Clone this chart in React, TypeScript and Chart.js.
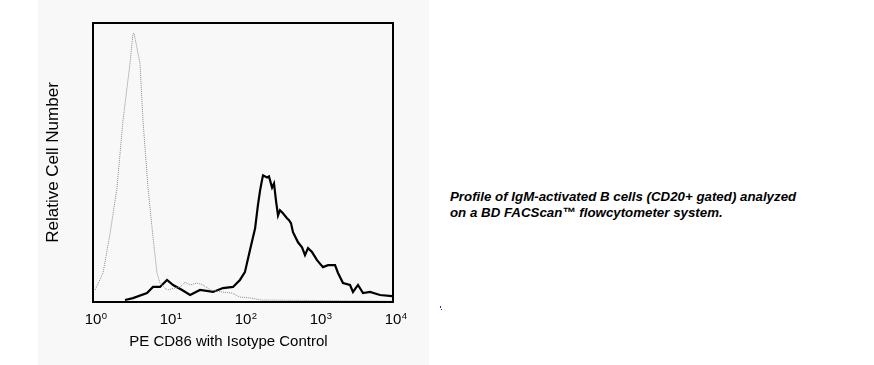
import React, { useEffect, useRef } from "react";
import { Chart, registerables } from "chart.js";

Chart.register(...registerables);

// Fluorescence intensity (PE) and relative cell counts
const isotypeX = [1.06, 1.12, 1.36, 1.69, 2.09, 2.51, 3.11, 3.41, 3.52, 4.24, 4.64, 5.41, 6.31, 7.13, 7.82, 9.7, 14.5, 16.9, 19.7, 24.5, 29.3, 37, 52, 72, 90, 128, 175, 10000];
const isotypeY = [4.3, 5.5, 10.4, 24.6, 41, 65, 85.4, 96, 96.4, 85.4, 65, 41, 23.2, 10.4, 6.8, 4.3, 5.4, 7.1, 6.1, 6.8, 6.1, 4.3, 3.6, 3.2, 1.8, 1.4, 0.7, 0.3];

const cd86X = [2.67, 3.41, 5.25, 6.31, 7.82, 9.7, 11.7, 15.4, 19.7, 26.7, 39.8, 54, 73.6, 91, 106, 124, 145, 158, 169, 179, 185, 209, 222, 244, 259, 275, 293, 311, 341, 386, 411, 437, 464, 541, 612, 671, 736, 832, 970, 1166, 1360, 1687, 1848, 2154, 2672, 2929, 3415, 3981, 4936, 6710, 9700];
const cd86Y = [0.7, 1.4, 3.2, 5.4, 5.4, 7.9, 6.1, 4.3, 2.5, 4.3, 3.6, 5, 5.4, 7.9, 10.7, 18.6, 26.4, 34.6, 40, 43.6, 45.4, 44.6, 45, 41, 42.5, 36.4, 31, 32.9, 31.8, 30, 29.3, 28.2, 25, 21.4, 19.6, 16.8, 19.3, 17.9, 15, 12.5, 13.2, 13.2, 10.4, 6.8, 6.1, 3.6, 6.1, 3.2, 3.6, 2.5, 2.1];

const tickValues = [1, 10, 100, 1000, 10000];
const tickBase = "10";
const tickExponents = ["0", "1", "2", "3", "4"];

const xTitle = "PE CD86 with Isotype Control";
const yTitle = "Relative Cell Number";
const captionLines = [
  "Profile of IgM-activated B cells (CD20+ gated) analyzed",
  "on a BD FACScan\u2122 flowcytometer system.",
];

const FONT = "Arial, 'Liberation Sans', sans-serif";

const boxPlugin = {
  id: "boxFrame",
  afterDatasetsDraw(chart: any) {
    const { ctx, chartArea } = chart;
    ctx.save();
    ctx.strokeStyle = "#000";
    ctx.lineWidth = 2;
    ctx.strokeRect(chartArea.left, chartArea.top, chartArea.right - chartArea.left, chartArea.bottom - chartArea.top);
    ctx.restore();
  },
};

// Draws the power-of-ten exponents next to the "10" tick labels of the x axis
const exponentPlugin = {
  id: "tickExponents",
  afterDraw(chart: any) {
    const { ctx } = chart;
    const scale = chart.scales.x;
    ctx.save();
    ctx.font = `15px ${FONT}`;
    const w = ctx.measureText(tickBase).width;
    ctx.font = `9.5px ${FONT}`;
    ctx.fillStyle = "#000";
    ctx.textAlign = "left";
    ctx.textBaseline = "alphabetic";
    tickValues.forEach((v, i) => {
      const x = scale.getPixelForValue(v);
      ctx.fillText(tickExponents[i], x + w / 2 + 0.5, scale.top + 16.5);
    });
    ctx.restore();
  },
};

export default function App() {
  const ref = useRef<HTMLCanvasElement | null>(null);

  useEffect(() => {
    if (!ref.current) return;
    const chart = new Chart(ref.current, {
      type: "line",
      data: {
        datasets: [
          {
            label: "Isotype Control",
            data: isotypeX.map((x, i) => ({ x, y: isotypeY[i] })),
            borderColor: "#8a8a8a",
            borderWidth: 1,
            borderDash: [1, 1],
            pointRadius: 0,
            tension: 0,
            fill: false,
          },
          {
            label: "PE CD86",
            data: cd86X.map((x, i) => ({ x, y: cd86Y[i] })),
            borderColor: "#000",
            borderWidth: 2.2,
            pointRadius: 0,
            tension: 0,
            fill: false,
          },
        ],
      },
      options: {
        animation: false,
        responsive: false,
        maintainAspectRatio: false,
        layout: { padding: { left: 0, right: 36, top: 23, bottom: 0 } },
        plugins: { legend: { display: false }, tooltip: { enabled: false } },
        scales: {
          x: {
            type: "logarithmic",
            min: 1,
            max: 10000,
            grid: { display: false, drawTicks: false },
            border: { display: false },
            afterBuildTicks: (s: any) => {
              s.ticks = tickValues.map((v) => ({ value: v }));
            },
            afterFit: (s: any) => {
              s.height = 63;
            },
            ticks: {
              autoSkip: false,
              maxRotation: 0,
              padding: 9,
              color: "#000",
              font: { family: FONT, size: 15 },
              callback: (v: any) => (tickValues.indexOf(Number(v)) >= 0 ? tickBase : ""),
            },
            title: {
              display: true,
              text: xTitle + "\u0020\u0020\u0020\u0020\u0020\u0020\u0020",
              color: "#000",
              font: { family: FONT, size: 15 },
              padding: { top: 0, bottom: 14 },
            },
          },
          y: {
            min: 0,
            max: 100,
            grid: { display: false, drawTicks: false },
            border: { display: false },
            ticks: { display: false },
            afterFit: (s: any) => {
              s.width = 55;
            },
            title: {
              display: true,
              text: yTitle,
              color: "#000",
              font: { family: FONT, size: 17 },
              padding: { top: 5, bottom: 0 },
            },
          },
        },
      },
      plugins: [boxPlugin, exponentPlugin],
    } as any);
    return () => chart.destroy();
  }, []);

  return (
    <div style={{ position: "fixed", left: 0, top: 0, width: 874, height: 365, background: "#fff", overflow: "hidden" }}>
      <div style={{ position: "absolute", left: 38, top: 0, width: 391, height: 365, background: "#f8f8f8" }} />
      <canvas ref={ref} width={391} height={365} style={{ position: "absolute", left: 38, top: 0, width: 391, height: 365 }} />
      <div
        style={{
          position: "absolute",
          left: 450,
          top: 189,
          fontFamily: FONT,
          fontSize: 13.3,
          fontWeight: "bold",
          fontStyle: "italic",
          lineHeight: "16px",
          color: "#000",
          whiteSpace: "nowrap",
        }}
      >
        {captionLines.map((l, i) => (
          <div key={i}>{l}</div>
        ))}
      </div>
      <div style={{ position: "absolute", left: 440, top: 306, width: 1, height: 2, background: "#2020ff" }} />
      <div style={{ position: "absolute", left: 441, top: 309, width: 1, height: 1, background: "#2020ff" }} />
    </div>
  );
}
